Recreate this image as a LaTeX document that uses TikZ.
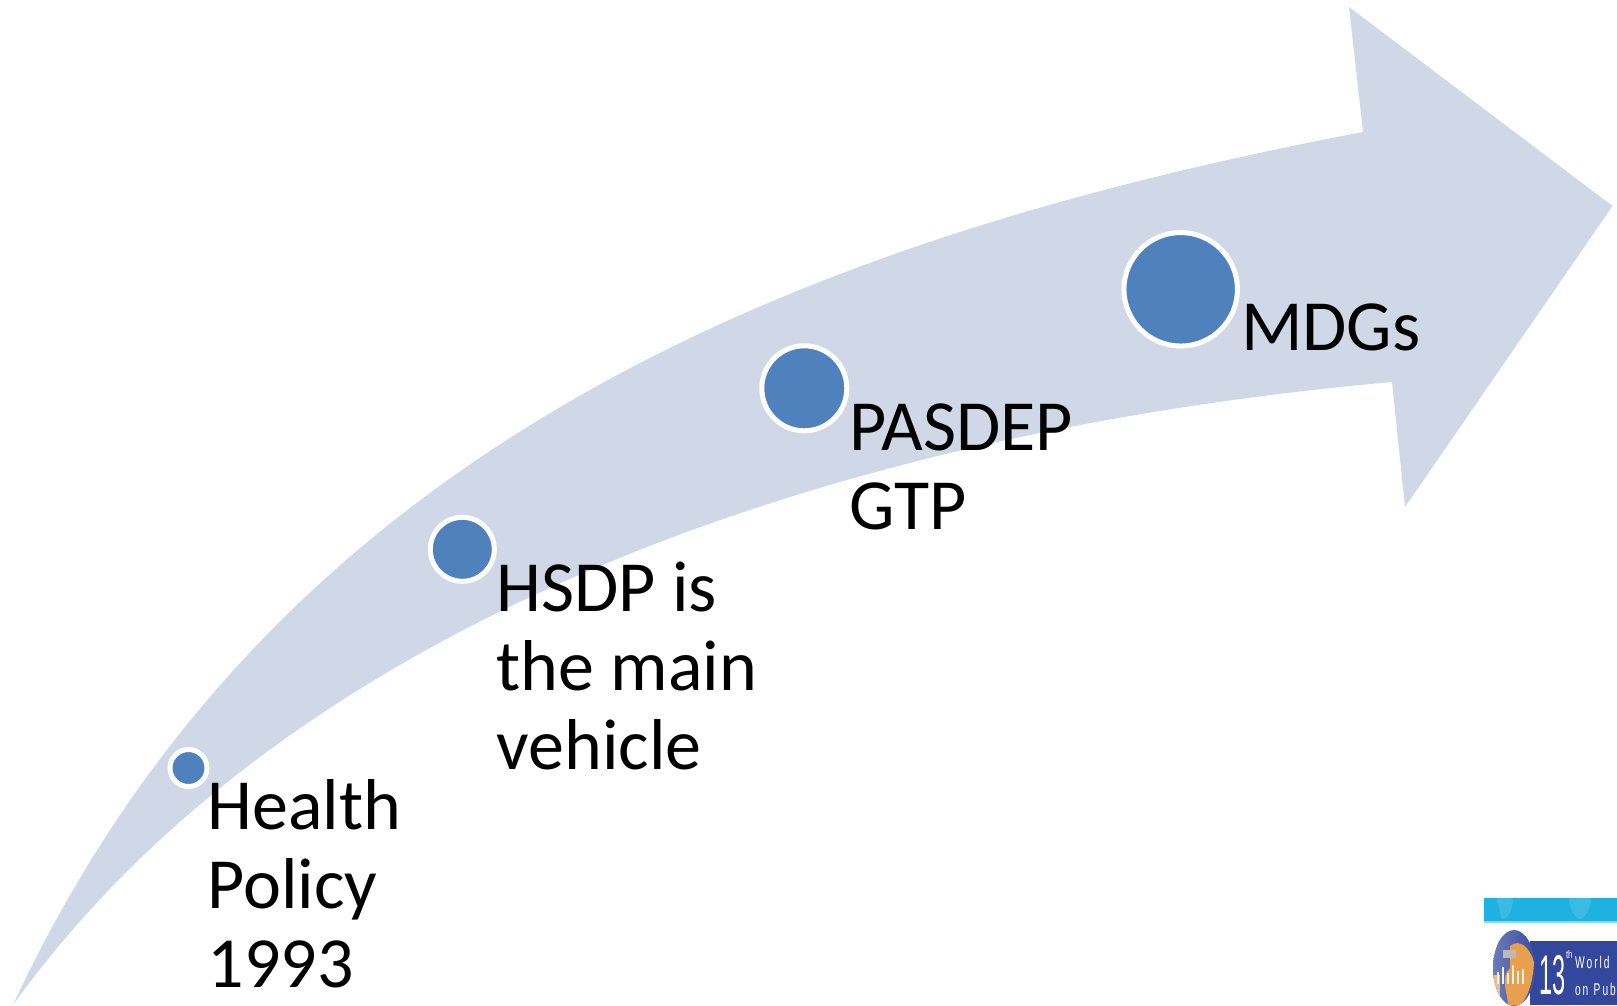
\documentclass[tikz,border=0pt]{standalone}
\usepackage{fontspec}
\setmainfont{Carlito}
\newfontfamily\logofont{Liberation Sans}
\definecolor{arrowfill}{HTML}{D0D8E8}
\definecolor{dotblue}{HTML}{4F81BD}
\definecolor{logocyan}{HTML}{1FB2E0}
\definecolor{logoblue}{HTML}{33489C}
\definecolor{logoorange}{HTML}{E8A050}
\tikzset{
  dot/.style={circle,fill=dotblue,draw=white,line width=5bp,inner sep=0pt,outer sep=0pt},
  lab/.style={anchor=base west,align=left,inner sep=0pt,outer sep=0pt,text=black,font=\fontsize{72bp}{79bp}\selectfont},
  logotext/.style={anchor=base west,inner sep=0pt,outer sep=0pt,text=white}
}
\newcommand{\narrow}[2]{\scalebox{#1}[1]{#2}}
\begin{document}
\begin{tikzpicture}[x=1bp,y=-1bp]
\useasboundingbox (0,0) rectangle (1617,1005);
\clip (0,0) rectangle (1617,1005);
\fill[arrowfill] (13,1005) .. controls (272,448) and (795,240) .. (1363,132)
  -- (1349,7) -- (1612.5,206) -- (1405,507) -- (1392,382)
  .. controls (830,432) and (290,620) .. (13,1005) -- cycle;
\node[dot,minimum size=37bp] (d1) at (188.5,768) {};
\node[dot,minimum size=64bp] (d2) at (462.3,549.3) {};
\node[dot,minimum size=85bp] (d3) at (804.3,388.3) {};
\node[dot,minimum size=113.5bp] (d4) at (1180.7,289.3) {};
\node[lab] (t1) at (207.5,987) {Health\\Policy\\1993};
\node[lab] (t2) at (496.5,769) {HSDP is\\the main\\vehicle};
\node[lab] (t3) at (849.5,529) {PASDEP\\GTP};
\node[lab] (t4) at (1241,350) {MDGs};
% logo
\fill[logocyan] (1484,898) rectangle (1617,921);
\fill[logocyan!88!white,rounded corners=4bp] (1496,898) -- (1514,898) -- (1510,914) -- (1502,921) -- (1499,908) -- cycle;
\fill[logocyan!88!white,rounded corners=4bp] (1568,898) -- (1592,898) -- (1588,912) -- (1580,921) -- (1572,912) -- cycle;
\fill[logocyan!50!white] (1484,921) rectangle (1617,922.5);
\fill[logoblue] (1530,941) rectangle (1617,1005);
\begin{scope}
\clip (1514,968) ellipse [x radius=21,y radius=38];
\shade[left color=logoblue!70!white,right color=logoblue] (1490,925) rectangle (1540,1010);
\fill[logoorange] (1510,946) .. controls (1520,938) and (1530,948) .. (1534,962)
  .. controls (1533,985) and (1526,1000) .. (1520,1005) -- (1508,1005)
  .. controls (1507,990) and (1500,978) .. (1510,968) -- cycle;
\fill[logoorange!70!white] (1492,975) rectangle (1500,1005);
\fill[gray!55] (1503,950) rectangle (1516,958);
\end{scope}
\foreach \xx/\hh in {1497/12,1502/17,1507/11,1512/19,1517/13,1522/15}{
  \fill[white!85!logoorange] (\xx,984) rectangle (\xx+2.2,984-\hh);
}
\node[logotext,font=\logofont\fontsize{56bp}{56bp}\selectfont] (l13) at (1539,994) {\narrow{.42}{13}};
\node[logotext,font=\logofont\fontsize{11bp}{11bp}\selectfont] (lth) at (1566,958) {\narrow{.7}{th}};
\node[logotext,font=\logofont\fontsize{17bp}{17bp}\selectfont] (lw) at (1575,968) {\narrow{.6}{W\hspace{3.3bp}o\hspace{3.3bp}r\hspace{3.3bp}l\hspace{3.3bp}d}};
\node[logotext,font=\logofont\fontsize{17bp}{17bp}\selectfont] (lo) at (1575,995) {\narrow{.6}{o\hspace{3.3bp}n\hspace{9bp}P\hspace{3.3bp}u\hspace{3.3bp}b}};
\end{tikzpicture}
\end{document}
